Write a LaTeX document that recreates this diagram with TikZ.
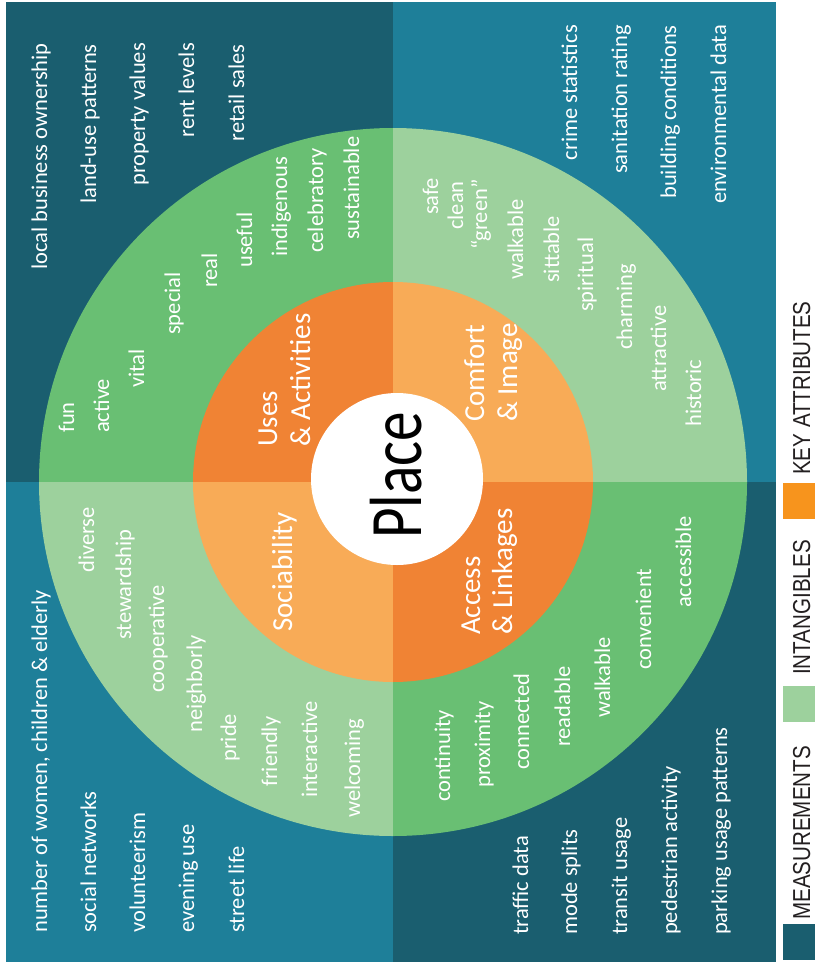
\documentclass[tikz,border=0pt]{standalone}
\usepackage{fontspec}
\usepackage{graphicx}
\setmainfont{Carlito}
\newfontfamily\legendfont{Liberation Sans}
\definecolor{tealD}{HTML}{1A5E6F}
\definecolor{tealL}{HTML}{1E7F99}
\definecolor{greenD}{HTML}{69BF73}
\definecolor{greenL}{HTML}{9DD19D}
\definecolor{orangeD}{HTML}{F08334}
\definecolor{orangeL}{HTML}{F8AB57}
\definecolor{legOrange}{HTML}{F7941D}
\definecolor{legText}{HTML}{231F20}
\begin{document}
\begin{tikzpicture}[x=1pt,y=-1pt,
  txt/.style={text=white, inner sep=0pt, rotate=90, font=\fontsize{22.5}{27}\selectfont},
  up/.style={txt, anchor=base west},
  down/.style={txt, anchor=base east},
  keyattr/.style={text=white, inner sep=0pt, rotate=90, anchor=base west, font=\fontsize{29}{33}\selectfont},
  legtxt/.style={text=legText, inner sep=0pt, rotate=90, anchor=base west, font=\legendfont\fontsize{24.5}{29}\selectfont},
  legbox/.style={inner sep=0pt, minimum width=32pt, minimum height=36pt, anchor=north west}]
\useasboundingbox (0,0) rectangle (815,963);
\fill[white] (0,0) rectangle (815,963);
\coordinate (C) at (393,482);
% top-left quadrant
\begin{scope}
  \clip (6,2) rectangle (393,482);
  \fill[tealD] (6,2) rectangle (393,482);
  \fill[greenD] (C) circle[radius=354];
  \fill[orangeD] (C) circle[radius=200];
\end{scope}
% top-right quadrant
\begin{scope}
  \clip (393,2) rectangle (776,482);
  \fill[tealL] (393,2) rectangle (776,482);
  \fill[greenL] (C) circle[radius=354];
  \fill[orangeL] (C) circle[radius=200];
\end{scope}
% bottom-left quadrant
\begin{scope}
  \clip (6,482) rectangle (393,962);
  \fill[tealL] (6,482) rectangle (393,962);
  \fill[greenL] (C) circle[radius=354];
  \fill[orangeL] (C) circle[radius=200];
\end{scope}
% bottom-right quadrant
\begin{scope}
  \clip (393,482) rectangle (776,962);
  \fill[tealD] (393,482) rectangle (776,962);
  \fill[greenD] (C) circle[radius=354];
  \fill[orangeD] (C) circle[radius=200];
\end{scope}
\fill[white] (397,479) circle[radius=86];
\node[inner sep=0pt, rotate=90, anchor=base west, text=black, font=\fontsize{74}{80}\selectfont] (place) at (421,539) {\scalebox{0.8}[1]{Place}};

% measurements top-left
\node[down] (m1) at (47,43) {local business ownership};
\node[down] (m2) at (96,44) {land-use patterns};
\node[down] (m3) at (145,43) {property values};
\node[down] (m4) at (194,43) {rent levels};
\node[down] (m5) at (244,44) {retail sales};
% measurements top-right
\node[down] (m6) at (577,25) {crime statistics};
\node[down] (m7) at (627,25) {sanitation rating};
\node[down] (m8) at (676,25) {building conditions};
\node[down] (m9) at (726,25) {environmental data};
% measurements bottom-left
\node[up] (m10) at (47,933) {number of women, children \& elderly};
\node[up] (m11) at (96,933) {social networks};
\node[up] (m12) at (145,933) {volunteerism};
\node[up] (m13) at (194,933) {evening use};
\node[up] (m14) at (244,933) {street life};
% measurements bottom-right
\node[up] (m15) at (528,935) {traffic data};
\node[up] (m16) at (577,935) {mode splits};
\node[up] (m17) at (627,935) {transit usage};
\node[up] (m18) at (677,935) {pedestrian activity};
\node[up] (m19) at (727,935) {parking usage patterns};

% intangibles top-left
\node[up] (i1) at (74,433) {fun};
\node[up] (i2) at (109,433) {active};
\node[up] (i3) at (144,388) {vital};
\node[up] (i4) at (180,335) {special};
\node[up] (i5) at (217,288) {real};
\node[up] (i6) at (252,268) {useful};
\node[up] (i7) at (287,257) {indigenous};
\node[up] (i8) at (323,253) {celebratory};
\node[up] (i9) at (359,240) {sustainable};
% intangibles top-right
\node[up] (i10) at (438,215) {safe};
\node[up] (i11) at (463,230) {clean};
\node[up] (i12) at (487,250) {“green”};
\node[up] (i13) at (523,280) {walkable};
\node[up] (i14) at (559,283) {sittable};
\node[up] (i15) at (593,312) {spiritual};
\node[up] (i16) at (632,350) {charming};
\node[up] (i17) at (666,392) {attractive};
\node[up] (i18) at (701,427) {historic};
% intangibles bottom-left
\node[up] (i19) at (94,573) {diverse};
\node[up] (i20) at (131,640) {stewardship};
\node[up] (i21) at (164,693) {cooperative};
\node[up] (i22) at (202,733) {neighborly};
\node[up] (i23) at (236,762) {pride};
\node[up] (i24) at (277,787) {friendly};
\node[up] (i25) at (317,798) {interactive};
\node[up] (i26) at (360,818) {welcoming};
% intangibles bottom-right
\node[up] (i27) at (450,802) {continuity};
\node[up] (i28) at (490,788) {proximity};
\node[up] (i29) at (529,770) {connected};
\node[up] (i30) at (570,747) {readable};
\node[up] (i31) at (610,718) {walkable};
\node[up] (i32) at (651,670) {convenient};
\node[up] (i33) at (691,608) {accessible};

% key attributes
\node[keyattr] (ua1) at (277,447) {Uses};
\node[keyattr] (ua2) at (310,447) {\& Activities};
\node[keyattr] (ci1) at (484,422) {Comfort};
\node[keyattr] (ci2) at (517,422) {\& Image};
\node[keyattr] (so) at (292,632) {Sociability};
\node[keyattr] (al1) at (480,635) {Access};
\node[keyattr] (al2) at (512,635) {\& Linkages};

% legend
\node[legbox, fill=legOrange] (lk) at (783,483) {};
\node[legbox, fill=greenL] (li) at (783,686) {};
\node[legbox, fill=tealD] (lm) at (783,924) {};
\node[legtxt] (tk) at (810,475) {\scalebox{0.84}[1]{KEY ATTRIBUTES}};
\node[legtxt] (ti) at (810,675) {\scalebox{0.84}[1]{INTANGIBLES}};
\node[legtxt] (tm) at (810,920) {\scalebox{0.84}[1]{MEASUREMENTS}};
\end{tikzpicture}
\end{document}
